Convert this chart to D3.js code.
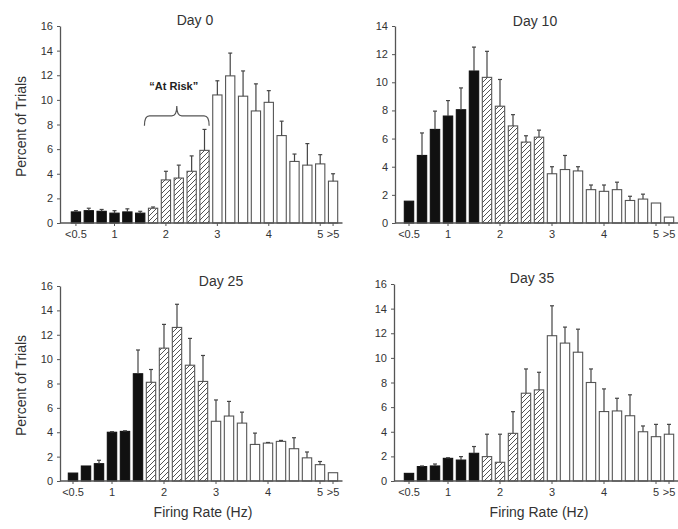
<!DOCTYPE html>
<html>
<head>
<meta charset="utf-8">
<script src="https://cdn.jsdelivr.net/npm/d3@7"></script>
<style>
  body { margin: 0; background: #fff; }
  svg { display: block; font-family: Arial, "Liberation Sans", sans-serif; }
</style>
</head>
<body>
<div id="chart"></div>
<script>
// firing-rate bins (0.25 Hz wide), with open-ended first and last bins
const bins = ['<0.5', '0.5', '0.75', '1', '1.25', '1.5', '1.75', '2', '2.25', '2.5', '2.75',
  '3', '3.25', '3.5', '3.75', '4', '4.25', '4.5', '4.75', '5', '>5'];
// bar style per bin: low rate, "at risk", normal
const binGroup = ['low', 'low', 'low', 'low', 'low', 'low', 'risk', 'risk', 'risk', 'risk', 'risk',
  'normal', 'normal', 'normal', 'normal', 'normal', 'normal', 'normal', 'normal', 'normal', 'normal'];
const tickLabels = ['<0.5', '1', '2', '3', '4', '5', '>5'];

const day0Mean = [0.9, 1.0, 0.95, 0.8, 0.9, 0.8, 1.2, 3.5, 3.65, 4.2, 5.9, 10.4, 11.95, 10.3, 9.1, 9.8, 7.1, 5.0, 4.7, 4.8, 3.4];
const day0Sem = [0.1, 0.2, 0.15, 0.2, 0.25, 0.15, 0.1, 0.7, 1.05, 1.25, 1.7, 1.15, 1.85, 2.05, 2.2, 0.95, 1.17, 0.6, 1.75, 0.75, 0.6];

const day10Mean = [1.55, 4.8, 6.65, 7.6, 8.05, 10.8, 10.35, 8.3, 6.9, 5.75, 6.1, 3.5, 3.8, 3.7, 2.37, 2.25, 2.37, 1.6, 1.7, 1.42, 0.42];
const day10Sem = [0, 1.6, 1.3, 1.1, 1.55, 1.7, 1.85, 1.9, 0.8, 0.45, 0.5, 0.5, 1.0, 0.3, 0.33, 0.45, 0.53, 0.3, 0.35, 0, 0];

const day25Mean = [0.65, 1.23, 1.42, 4.0, 4.07, 8.8, 8.1, 10.9, 12.6, 9.5, 8.17, 4.9, 5.33, 4.75, 3.0, 3.11, 3.25, 2.65, 1.9, 1.34, 0.68];
const day25Sem = [0, 0, 0.28, 0.05, 0.05, 1.95, 1.05, 1.95, 1.9, 2.2, 2.13, 1.75, 1.2, 0.9, 0.93, 0.05, 0.08, 0.9, 0.48, 0.26, 0];

const day35Mean = [0.62, 1.17, 1.22, 1.84, 1.7, 2.25, 1.98, 1.52, 3.87, 7.13, 7.4, 11.8, 11.2, 10.46, 8.0, 5.64, 5.69, 5.3, 4.0, 3.6, 3.8];
const day35Sem = [0, 0.05, 0.16, 0.05, 0.28, 0.55, 1.82, 2.28, 1.76, 1.97, 1.43, 2.43, 1.3, 1.87, 1.1, 1.84, 1.03, 1.7, 0.47, 1.0, 0.8];

const W = 678, H = 529;
const axisColor = '#555';
const textColor = '#333';

// panel layout (pixel geometry only)
const panels = [
  { title: 'Day 0', mean: day0Mean, sem: day0Sem, yMax: 16, axisX: 60, band: [69.5, 339.5], yRange: [223, 26], titleX: 195, titleY: 25, yLabel: true, xLabel: false, atRisk: true },
  { title: 'Day 10', mean: day10Mean, sem: day10Sem, yMax: 14, axisX: 395, band: [402.5, 675.5], yRange: [223, 26], titleX: 535, titleY: 26, yLabel: false, xLabel: false },
  { title: 'Day 25', mean: day25Mean, sem: day25Sem, yMax: 16, axisX: 60, band: [66.5, 339.5], yRange: [481, 286], titleX: 221, titleY: 286, yLabel: true, xLabel: true },
  { title: 'Day 35', mean: day35Mean, sem: day35Sem, yMax: 16, axisX: 394, band: [402.5, 675.5], yRange: [481, 284], titleX: 532, titleY: 283, yLabel: false, xLabel: true },
];

const svg = d3.select('#chart').append('svg')
  .attr('width', W)
  .attr('height', H);

// diagonal hatch for the "at risk" bins
svg.append('defs').append('pattern')
  .attr('id', 'hatch')
  .attr('patternUnits', 'userSpaceOnUse')
  .attr('width', 5)
  .attr('height', 5)
  .call(p => p.append('rect').attr('width', 5).attr('height', 5).attr('fill', '#fff'))
  .append('path')
  .attr('d', 'M0,5 L5,0 M-1.25,1.25 L1.25,-1.25 M3.75,6.25 L6.25,3.75')
  .attr('stroke', '#555')
  .attr('stroke-width', 1);

const fillFor = { low: '#111', risk: 'url(#hatch)', normal: '#fff' };
const strokeFor = { low: '#111', risk: '#555', normal: '#555' };

panels.forEach(p => {
  const x = d3.scaleBand()
    .domain(bins)
    .range(p.band)
    .paddingInner(0.28)
    .paddingOuter(0.14);

  const y = d3.scaleLinear()
    .domain([0, p.yMax])
    .range(p.yRange);

  const g = svg.append('g').attr('class', 'panel');

  const rows = bins.map((b, i) => ({ bin: b, group: binGroup[i], val: p.mean[i], sem: p.sem[i] }));

  // bars
  g.selectAll('rect.bar')
    .data(rows)
    .join('rect')
    .attr('class', 'bar')
    .attr('x', d => x(d.bin))
    .attr('y', d => y(d.val))
    .attr('width', x.bandwidth())
    .attr('height', d => y(0) - y(d.val))
    .attr('fill', d => fillFor[d.group])
    .attr('stroke', d => strokeFor[d.group])
    .attr('stroke-width', 1.1);

  // upper error bars
  const err = g.selectAll('g.err')
    .data(rows.filter(d => d.sem > 0))
    .join('g')
    .attr('class', 'err')
    .attr('stroke', '#444')
    .attr('stroke-width', 1.2);

  err.append('line')
    .attr('x1', d => x(d.bin) + x.bandwidth() / 2)
    .attr('x2', d => x(d.bin) + x.bandwidth() / 2)
    .attr('y1', d => y(d.val))
    .attr('y2', d => y(d.val + d.sem));

  err.append('line')
    .attr('x1', d => x(d.bin) + x.bandwidth() / 2 - 2)
    .attr('x2', d => x(d.bin) + x.bandwidth() / 2 + 2)
    .attr('y1', d => y(d.val + d.sem))
    .attr('y2', d => y(d.val + d.sem));

  // y axis
  const yAxis = g.append('g')
    .attr('transform', `translate(${p.axisX},0)`)
    .call(d3.axisLeft(y).tickValues(d3.range(0, p.yMax + 1, 2)).tickSize(3).tickPadding(4).tickSizeOuter(0));

  // x axis
  const xAxis = g.append('g')
    .attr('transform', `translate(0,${y(0)})`)
    .call(d3.axisBottom(x).tickValues(tickLabels).tickSize(3).tickPadding(4).tickSizeOuter(0));
  xAxis.select('.domain').attr('d', `M${p.axisX},0H${Math.min(W, p.band[1] + 3)}`);

  [yAxis, xAxis].forEach(a => {
    a.select('.domain').attr('stroke', axisColor).attr('stroke-width', 1.3);
    a.selectAll('.tick line').attr('stroke', axisColor);
    a.selectAll('.tick text').attr('fill', textColor).style('font-size', '11px');
  });

  // title
  g.append('text')
    .attr('x', p.titleX)
    .attr('y', p.titleY)
    .attr('text-anchor', 'middle')
    .attr('fill', textColor)
    .style('font-size', '14px')
    .text(p.title);

  if (p.yLabel) {
    g.append('text')
      .attr('transform', `translate(26,${(p.yRange[0] + p.yRange[1]) / 2 + 2}) rotate(-90)`)
      .attr('text-anchor', 'middle')
      .attr('fill', textColor)
      .style('font-size', '14px')
      .text('Percent of Trials');
  }

  if (p.xLabel) {
    g.append('text')
      .attr('x', (p.band[0] + p.band[1]) / 2)
      .attr('y', 517)
      .attr('text-anchor', 'middle')
      .attr('fill', textColor)
      .style('font-size', '14px')
      .text('Firing Rate (Hz)');
  }

  if (p.atRisk) {
    // curly brace over the at-risk bins
    const xa = x(bins[6]) - 4;
    const xb = x(bins[10]) + x.bandwidth();
    const xm = (xa + xb) / 2;
    const yEnd = y(7.9), yMid = y(8.7), yTip = y(9.5);
    const path = d3.path();
    path.moveTo(xa, yEnd);
    path.quadraticCurveTo(xa, yMid, xa + 5, yMid);
    path.lineTo(xm - 5, yMid);
    path.quadraticCurveTo(xm, yMid, xm, yTip);
    path.quadraticCurveTo(xm, yMid, xm + 5, yMid);
    path.lineTo(xb - 5, yMid);
    path.quadraticCurveTo(xb, yMid, xb, yEnd);
    g.append('path')
      .attr('d', path.toString())
      .attr('fill', 'none')
      .attr('stroke', '#555')
      .attr('stroke-width', 1.2);

    g.append('text')
      .attr('x', xm - 3)
      .attr('y', y(10.8))
      .attr('text-anchor', 'middle')
      .attr('fill', '#222')
      .style('font-size', '11px')
      .style('font-weight', 'bold')
      .text('\u201CAt Risk\u201D');
  }
});
</script>
</body>
</html>
